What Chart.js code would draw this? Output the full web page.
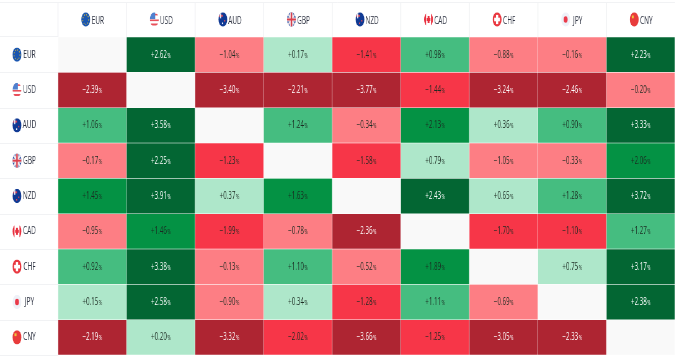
<!DOCTYPE html>
<html>
<head>
<meta charset="utf-8">
<style>
  html, body { margin: 0; padding: 0; background: #fff; overflow: hidden; }
  #wrap { width: 682px; height: 359px; overflow: hidden; }
  /* the picture is squeezed sideways, so the canvas is drawn wide and narrowed here */
  #miGrafico { transform: scaleX(0.62); transform-origin: 0 0; display: block; }
</style>
</head>
<body>
<div id="wrap"><canvas id="miGrafico" width="1100" height="359"></canvas></div>
<script src="https://cdn.jsdelivr.net/npm/chart.js@4/dist/chart.umd.js"></script>
<script>
// currencies, same order on both axes
const currencies = ['EUR', 'USD', 'AUD', 'GBP', 'NZD', 'CAD', 'CHF', 'JPY', 'CNY'];

// one row per base currency, null on the diagonal
const rowEUR = [null, 2.62, -1.04, 0.17, -1.41, 0.98, -0.88, -0.16, 2.23];
const rowUSD = [-2.39, null, -3.40, -2.21, -3.77, -1.44, -3.24, -2.46, -0.20];
const rowAUD = [1.06, 3.58, null, 1.24, -0.34, 2.13, 0.36, 0.90, 3.33];
const rowGBP = [-0.17, 2.25, -1.23, null, -1.58, 0.79, -1.05, -0.33, 2.06];
const rowNZD = [1.45, 3.91, 0.37, 1.63, null, 2.43, 0.65, 1.28, 3.72];
const rowCAD = [-0.95, 1.46, -1.99, -0.78, -2.36, null, -1.70, -1.10, 1.27];
const rowCHF = [0.92, 3.38, -0.13, 1.10, -0.52, 1.89, null, 0.75, 3.17];
const rowJPY = [0.15, 2.58, -0.90, 0.34, -1.28, 1.11, -0.69, null, 2.38];
const rowCNY = [-2.19, 0.20, -3.32, -2.02, -3.66, -1.25, -3.05, -2.33, null];
const rows = [rowEUR, rowUSD, rowAUD, rowGBP, rowNZD, rowCAD, rowCHF, rowJPY, rowCNY];

const FONT = '"Open Sans", sans-serif';
const INK = '#2c3140';

function cellColor(v) {
    if (v === null) return '#f9f9f9';
    if (v >= 2.2) return '#036633';
    if (v >= 1.4) return '#049244';
    if (v >= 0.9) return '#45bd80';
    if (v >= 0) return '#aee7ca';
    if (v > -1.07) return '#fd7e84';
    if (v > -2.1) return '#f73648';
    return '#ae2532';
}

function textColor(v) {
    return v >= 2.2 || v <= -2.1 ? '#ffffff' : '#1c2b22';
}

function formatValue(v) {
    return (v > 0 ? '+' : '\u2212') + Math.abs(v).toFixed(2);
}

// little round flags
function drawFlag(ctx, code, cx, cy) {
    const r = 7.2;
    ctx.save();
    ctx.beginPath();
    ctx.arc(cx, cy, r, 0, Math.PI * 2);
    ctx.clip();
    const fill = (c, x, y, w, h) => { ctx.fillStyle = c; ctx.fillRect(x, y, w, h); };
    const l = cx - r, t = cy - r, s = r * 2;
    if (code === 'EUR') {
        fill('#1a56b0', l, t, s, s);
        ctx.strokeStyle = '#d8b93a';
        ctx.lineWidth = 1.2;
        ctx.setLineDash([1.4, 1.8]);
        ctx.beginPath();
        ctx.arc(cx, cy, r - 2.4, 0, Math.PI * 2);
        ctx.stroke();
    } else if (code === 'USD') {
        fill('#ffffff', l, t, s, s);
        fill('#e8505b', l, t + 1.5, s, 1.6);
        fill('#e8505b', l, cy, s, 1.6);
        fill('#e8505b', l, cy + 4, s, 2);
        fill('#4f80cf', l, t, s * 0.6, s * 0.47);
    } else if (code === 'AUD' || code === 'NZD') {
        fill('#103a94', l, t, s, s);
        fill('#d9475a', l, t + 2.5, s * 0.5, 2);
        fill('#e9e9f2', l + 2.5, t, 2, s * 0.42);
        fill('#e04a57', cx + 2, cy + 0.5, 1.8, 1.6);
        fill(code === 'AUD' ? '#ffffff' : '#e04a57', cx - 1.5, cy + 3, 1.8, 1.6);
    } else if (code === 'GBP') {
        fill('#2f55a8', l, t, s, s);
        ctx.strokeStyle = '#f1e6e8';
        ctx.lineWidth = 2.2;
        ctx.beginPath();
        ctx.moveTo(l, t); ctx.lineTo(l + s, t + s);
        ctx.moveTo(l + s, t); ctx.lineTo(l, t + s);
        ctx.stroke();
        fill('#f1e6e8', cx - 2.4, t, 4.8, s);
        fill('#f1e6e8', l, cy - 2, s, 4);
        fill('#d9404e', cx - 1.2, t, 2.4, s);
        fill('#d9404e', l, cy - 1, s, 2);
    } else if (code === 'CAD') {
        fill('#ffffff', l, t, s, s);
        fill('#e8303f', l, t, 3.2, s);
        fill('#e8303f', l + s - 3.2, t, 3.2, s);
        fill('#e8303f', cx - 1.5, cy - 3.5, 3, 7);
        fill('#e8303f', cx - 3, cy - 1.5, 6, 3);
    } else if (code === 'CHF') {
        fill('#e9373f', l, t, s, s);
        fill('#ffffff', cx - 4.6, cy - 1.8, 9.2, 3.6);
        fill('#ffffff', cx - 1.8, cy - 4.6, 3.6, 9.2);
    } else if (code === 'JPY') {
        fill('#eef1f8', l, t, s, s);
        ctx.fillStyle = '#ea3a4a';
        ctx.beginPath();
        ctx.arc(cx, cy, 3.2, 0, Math.PI * 2);
        ctx.fill();
    } else {
        fill('#e83b3b', l, t, s, s);
        fill('#f0c33a', cx - 4, cy - 4, 3.2, 2.8);
    }
    ctx.restore();
}

// faint lines of the header row and column, flags, and the cell texts
const tablePlugin = {
    id: 'tablePlugin',
    beforeDatasetsDraw(chart) {
        const { ctx, scales: { x, y }, chartArea: a } = chart;
        const step = x.getPixelForValue(1) - x.getPixelForValue(0);
        ctx.save();
        ctx.strokeStyle = '#f1f2f4';
        ctx.lineWidth = 1.6;
        ctx.beginPath();
        currencies.forEach((c, i) => {
            const px = x.getPixelForValue(i) - step / 2;
            ctx.moveTo(px, 2); ctx.lineTo(px, a.top);
        });
        ctx.stroke();
        ctx.lineWidth = 1;
        ctx.beginPath();
        currencies.forEach((c, i) => {
            const py = Math.round(y.getPixelForValue(i + 1)) + 0.5;
            ctx.moveTo(0, py); ctx.lineTo(a.left, py);
        });
        ctx.moveTo(0, 2.5); ctx.lineTo(a.right, 2.5);
        ctx.moveTo(0, a.top - 0.5); ctx.lineTo(a.left, a.top - 0.5);
        ctx.stroke();
        ctx.restore();
    },
    afterDraw(chart) {
        const { ctx, scales: { x, y } } = chart;
        currencies.forEach((c, i) => {
            drawFlag(ctx, c, x.getPixelForValue(i) - 10.5, 19.5);
            drawFlag(ctx, c, 27.4, y.getPixelForValue(i + 0.5));
        });
        ctx.save();
        ctx.textBaseline = 'middle';
        chart.data.datasets.forEach((ds, r) => {
            chart.getDatasetMeta(r).data.forEach((bar, c) => {
                const v = ds.values[c];
                if (v === null) return;
                const txt = formatValue(v);
                ctx.fillStyle = textColor(v);
                ctx.font = '10px ' + FONT;
                const w1 = ctx.measureText(txt).width;
                ctx.textAlign = 'left';
                const left = bar.x - (w1 + 6) / 2;
                const cy = (bar.y + bar.base) / 2;
                ctx.fillText(txt, left, cy);
                ctx.font = '6.5px ' + FONT;
                ctx.fillText('%', left + w1 + 0.8, cy + 1);
            });
        });
        ctx.restore();
    }
};

const datasets = rows.map((row, r) => ({
    label: currencies[r],
    values: row,
    data: row.map(() => [r, r + 1]),
    backgroundColor: row.map(cellColor),
    borderColor: 'rgba(255,255,255,0.45)',
    borderWidth: 0.6,
    borderSkipped: false,
    barPercentage: 1,
    categoryPercentage: 1,
    grouped: false
}));

new Chart(document.getElementById('miGrafico'), {
    type: 'bar',
    data: { labels: currencies, datasets: datasets },
    plugins: [tablePlugin],
    options: {
        responsive: false,
        animation: false,
        layout: { padding: { top: 0, right: 11.3, bottom: 4, left: 0 } },
        plugins: { legend: { display: false }, tooltip: { enabled: false }, title: { display: false } },
        scales: {
            x: {
                type: 'category',
                position: 'top',
                offset: true,
                grid: { display: false, drawTicks: false },
                border: { display: false },
                afterFit(s) { s.height = 37; },
                ticks: { color: INK, font: { family: FONT, size: 10.5 }, maxRotation: 0, labelOffset: 9, padding: 10 }
            },
            y: {
                type: 'linear',
                reverse: true,
                min: 0,
                max: 9,
                grid: { display: false, drawTicks: false },
                border: { display: false },
                afterFit(s) { s.width = 93.5; s.paddingTop = 0; s.paddingBottom = 0; },
                afterBuildTicks(s) { s.ticks = currencies.map((c, i) => ({ value: i + 0.5 })); },
                ticks: {
                    color: INK,
                    font: { family: FONT, size: 10.5 },
                    crossAlign: 'center',
                    padding: 35,
                    callback(v) { return currencies[Math.floor(v)]; }
                }
            }
        }
    }
});
</script>
</body>
</html>
